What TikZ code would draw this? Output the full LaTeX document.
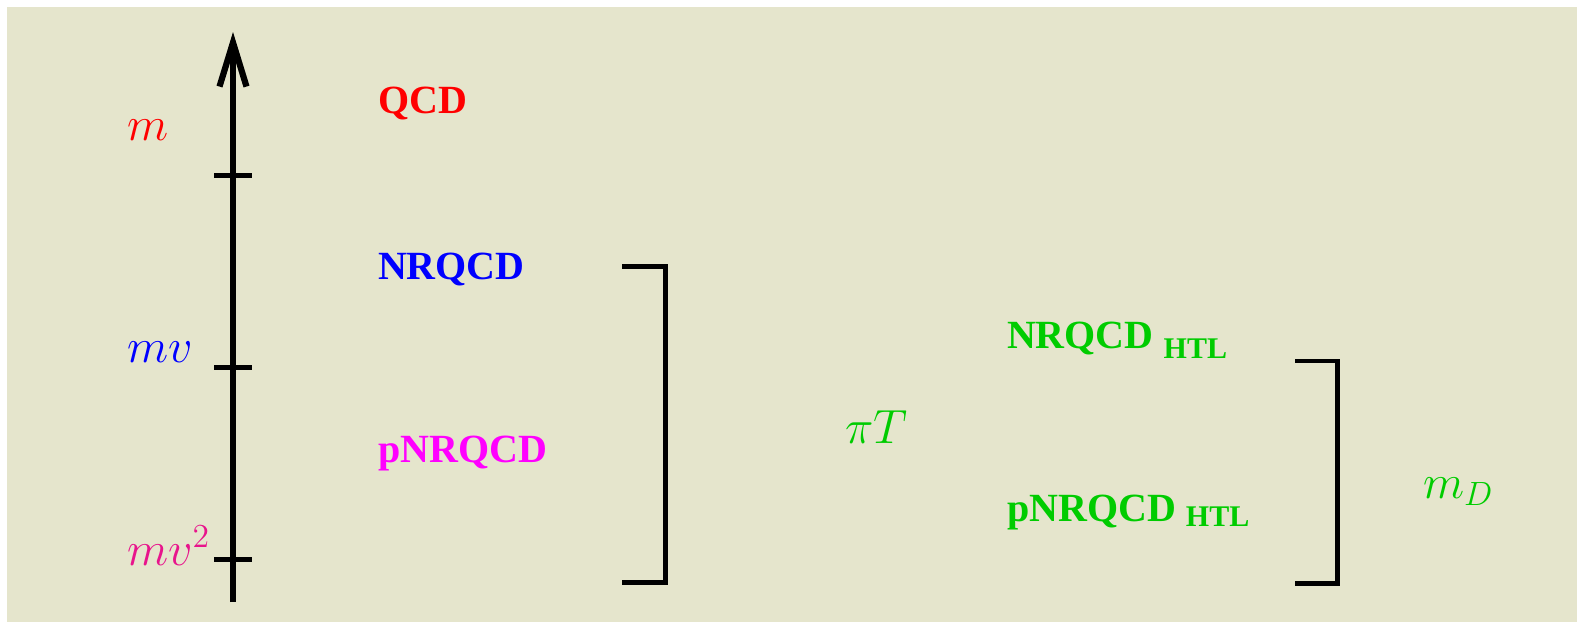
\RequirePackage{fix-cm}
\documentclass[tikz,border=0pt]{standalone}
\usepackage{fontspec}
\newfontfamily\timesbf{Liberation Serif}[BoldFont={Liberation Serif Bold}]
\usetikzlibrary{arrows.meta}

\definecolor{paper}{RGB}{229,229,204}
\definecolor{efgreen}{RGB}{0,204,0}
\definecolor{efpink}{RGB}{232,20,140}
\definecolor{efmagenta}{RGB}{255,0,255}

\tikzset{
  lbl/.style={anchor=base west, inner sep=0pt, outer sep=0pt},
  eft/.style={lbl, font=\timesbf\bfseries\fontsize{20}{24}\selectfont},
  mathlbl/.style={lbl, font=\fontsize{24}{28}\selectfont},
  axisline/.style={line width=3.25pt, -{Straight Barb[length=22pt, width=13.5pt, line width=3.1pt]}},
  tickmark/.style={line width=2.5pt},
  bracket/.style={line width=2.35pt, line join=miter},
}
\newcommand{\htl}[1]{\raisebox{-#1}{\fontsize{15}{18}\selectfont HTL}}

\begin{document}
\begin{tikzpicture}[x=0.5pt, y=-0.5pt]
  \useasboundingbox (0,0) rectangle (1577,622);
  \fill[paper] (7,7) rectangle (1577,622);

  % energy axis with its three ticks
  \coordinate (axbot) at (233,602);
  \coordinate (axtop) at (233,32);
  \draw[axisline] (axbot) -- (axtop);
  \foreach \name/\y in {tm/175, tmv/367, tmvv/559} {
    \coordinate (\name L) at (214,\y);
    \coordinate (\name R) at (252,\y);
    \draw[tickmark] (\name L) -- (\name R);
  }

  % scales
  \node[mathlbl, text=red]    (sm)   at (127,140) {$m$};
  \node[mathlbl, text=blue]   (smv)  at (127,362) {$mv$};
  \node[mathlbl, text=efpink] (smvv) at (127,565) {$mv^2$};

  % effective theories
  \node[eft, text=red]       (qcd)    at (378,113) {QCD};
  \node[eft, text=blue]      (nrqcd)  at (378,279) {NRQCD};
  \node[eft, text=efmagenta] (pnrqcd) at (378,462) {pNRQCD};

  % first bracket and the thermal scale
  \coordinate (b1a) at (622,266.5);
  \coordinate (b1b) at (665.5,266.5);
  \coordinate (b1c) at (665.5,582.5);
  \coordinate (b1d) at (622,582.5);
  \draw[bracket] (b1a) -- (b1b) -- (b1c) -- (b1d);
  \node[mathlbl, text=efgreen] (piT) at (845,443) {$\pi T$};

  % thermal effective theories
  \node[eft, text=efgreen] (nrhtl)  at (1007,348) {NRQCD~\htl{5pt}};
  \node[eft, text=efgreen] (pnrhtl) at (1007,521) {pNRQCD~\htl{2.5pt}};

  % second bracket and the Debye mass
  \coordinate (b2a) at (1295,361);
  \coordinate (b2b) at (1337.5,361);
  \coordinate (b2c) at (1337.5,583.5);
  \coordinate (b2d) at (1295,583.5);
  \draw[bracket] (b2a) -- (b2b) -- (b2c) -- (b2d);
  \node[mathlbl, text=efgreen] (mD) at (1423,498) {$m_D$};
\end{tikzpicture}
\end{document}
